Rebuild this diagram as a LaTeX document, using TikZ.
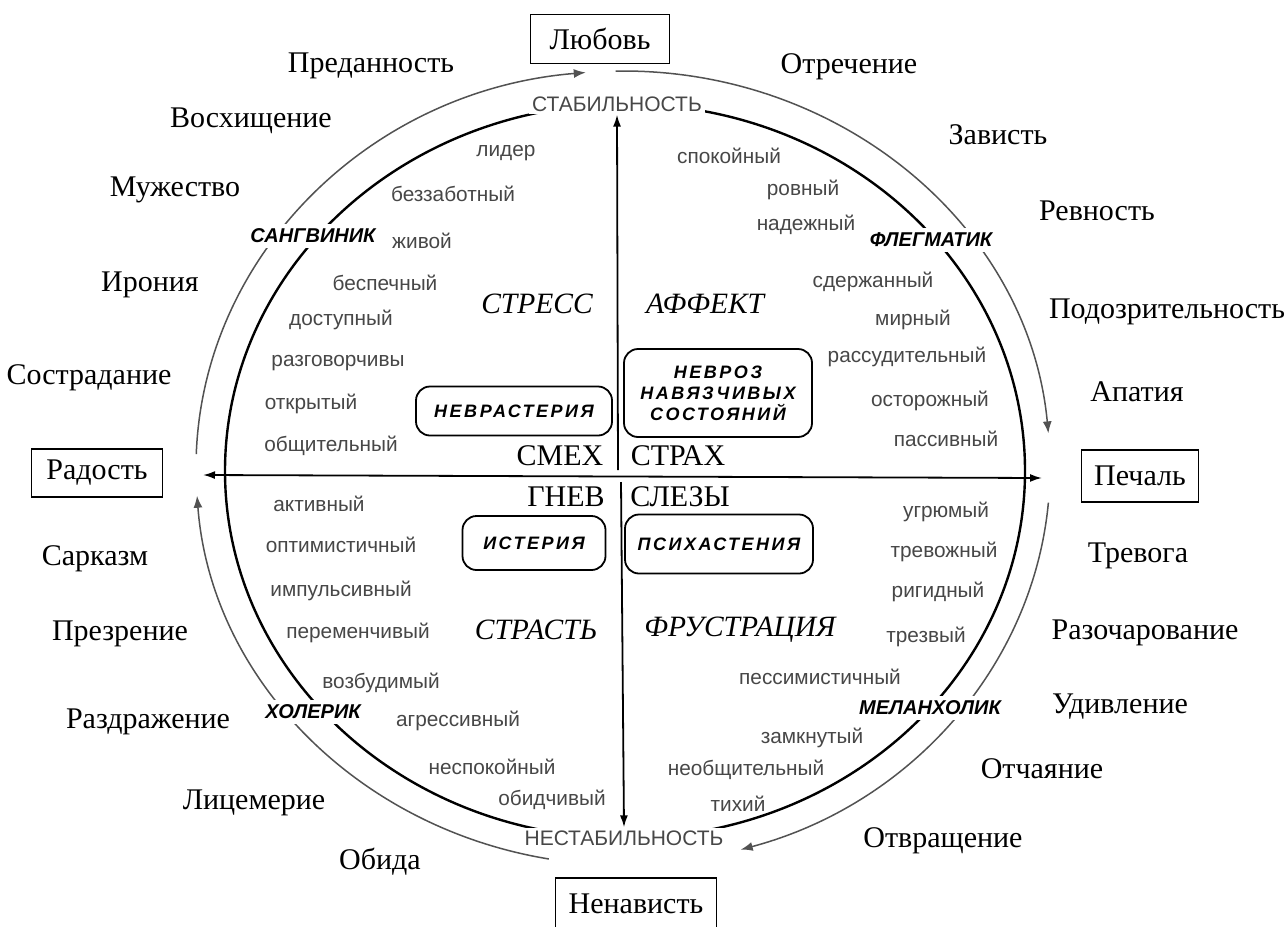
\documentclass[tikz,border=0pt]{standalone}
\usepackage{fontspec}
\setmainfont{Liberation Serif}
\setsansfont{Liberation Sans}
\usetikzlibrary{arrows.meta,calc}
\begin{document}
\begin{tikzpicture}[x=1pt,y=-1pt,
  emo/.style={font=\fontsize{30}{33}\selectfont, inner sep=0pt},
  pole/.style={draw, line width=1.4pt, font=\fontsize{30}{33}\selectfont, inner sep=0pt},
  quad/.style={font=\itshape\fontsize{29.5}{33}\selectfont, inner sep=0pt},
  trait/.style={font=\sffamily\fontsize{20.8}{23}\selectfont, text=black!72, inner sep=0pt},
  stab/.style={font=\sffamily\fontsize{21}{23}\selectfont, text=black!72, fill=white, inner sep=3pt},
  temp/.style={font=\sffamily\bfseries\itshape\fontsize{20}{22}\selectfont, fill=white, inner sep=5pt},
  disorder/.style={draw, line width=1.8pt, rounded corners=14pt, align=center,
     font=\sffamily\bfseries\itshape\fontsize{18}{21}\selectfont\addfontfeature{LetterSpace=14}},
  outerarc/.style={line width=1.5pt, draw=black!68, -{Latex[length=12pt,width=9pt]}},
  axis/.style={line width=1.8pt, -{Latex[length=12pt,width=8pt]}}
]
\useasboundingbox (0,0) rectangle (1287,926);
\fill[white] (0,0) rectangle (1287,926);

% centres
\coordinate (O) at (623,468);
\coordinate (I) at (625,471);

% inner ellipse
\draw[line width=2.4pt] (I) ellipse [x radius=400pt, y radius=367pt];

% outer arcs
\coordinate (a1s) at ($(O)+(178:427pt and 397pt)$);
\coordinate (a2s) at ($(O)+(91:427pt and 397pt)$);
\coordinate (a3s) at ($(O)+(-5:427pt and 397pt)$);
\coordinate (a4s) at ($(O)+(260:427pt and 397pt)$);
\draw[outerarc] (a1s) arc[start angle=178, end angle=95, x radius=427pt, y radius=397pt];
\draw[outerarc] (a2s) arc[start angle=91, end angle=5, x radius=427pt, y radius=397pt];
\draw[outerarc] (a3s) arc[start angle=-5, end angle=-74, x radius=427pt, y radius=397pt];
\draw[outerarc] (a4s) arc[start angle=260, end angle=184, x radius=427pt, y radius=397pt];

% stability labels
\node[stab] (st) at (617,104) {СТАБИЛЬНОСТЬ};
\node[stab] (nst) at (624,838) {НЕСТАБИЛЬНОСТЬ};

% axes
\coordinate (hl) at (203,475);
\coordinate (hr) at (1042,478);
\coordinate (vc1) at (618,470);
\coordinate (vc2) at (621,482);
\draw[axis, {Latex[length=12pt,width=8pt]}-{Latex[length=12pt,width=8pt]}] (hl) -- (hr);
\draw[axis] (vc1) -- (st.south);
\draw[axis] (vc2) -- (nst.north);

% temperaments
\node[temp] (sang) at (313,236) {САНГВИНИК};
\node[temp] (phleg) at (931,240) {ФЛЕГМАТИК};
\node[temp] (chol) at (313,712) {ХОЛЕРИК};
\node[temp] (mel) at (930,708) {МЕЛАНХОЛИК};

% pole boxes
\node[pole, minimum width=139pt, minimum height=49pt] (love) at (600,39) {Любовь};
\node[pole, minimum width=131pt, minimum height=48pt] (joy) at (97,473) {Радость};
\node[pole, minimum width=117pt, minimum height=52pt] (sad) at (1140,476) {Печаль};
\node[pole, minimum width=161pt, minimum height=52pt] (hate) at (636,904) {Ненависть};

% outer emotions
\node[emo] (e1) at (371,66) {Преданность};
\node[emo] (e2) at (251,121) {Восхищение};
\node[emo] (e3) at (175,190) {Мужество};
\node[emo] (e4) at (150,285) {Ирония};
\node[emo] (e5) at (89,378) {Сострадание};
\node[emo] (e6) at (95,559) {Сарказм};
\node[emo] (e7) at (120,634) {Презрение};
\node[emo] (e8) at (148,722) {Раздражение};
\node[emo] (e9) at (254,803) {Лицемерие};
\node[emo] (e10) at (380,862) {Обида};
\node[emo] (e11) at (849,67) {Отречение};
\node[emo] (e12) at (998,135) {Зависть};
\node[emo] (e13) at (1097,211) {Ревность};
\node[emo] (e14) at (1167,312) {Подозрительность};
\node[emo] (e15) at (1137,392) {Апатия};
\node[emo] (e16) at (1138,556) {Тревога};
\node[emo] (e17) at (1145,633) {Разочарование};
\node[emo] (e18) at (1120,707) {Удивление};
\node[emo] (e19) at (1042,769) {Отчаяние};
\node[emo] (e20) at (943,841) {Отвращение};

% quadrant states
\node[quad] (q1) at (537,304) {СТРЕСС};
\node[quad] (q2) at (705,304) {АФФЕКТ};
\node[quad] (q3) at (536,630) {СТРАСТЬ};
\node[quad] (q4) at (740,630) {ФРУСТРАЦИЯ};

% centre words
\node[emo] (c1) at (560,456) {СМЕХ};
\node[emo] (c2) at (678,456) {СТРАХ};
\node[emo] (c3) at (566,497) {ГНЕВ};
\node[emo] (c4) at (680,497) {СЛЕЗЫ};

% disorders
\node[disorder, minimum width=196pt, minimum height=49pt] (d1) at (514,411) {НЕВРАСТЕРИЯ};
\node[disorder, minimum width=188pt, minimum height=88pt] (d2) at (718,393) {НЕВРОЗ\\НАВЯЗЧИВЫХ\\СОСТОЯНИЙ};
\node[disorder, minimum width=143pt, minimum height=54pt] (d3) at (534,543) {ИСТЕРИЯ};
\node[disorder, minimum width=188pt, minimum height=59pt] (d4) at (719,544) {ПСИХАСТЕНИЯ};

% traits: top-left
\node[trait] (t1) at (506,153) {лидер};
\node[trait] (t2) at (453,194) {беззаботный};
\node[trait] (t3) at (422,241) {живой};
\node[trait] (t4) at (385,283) {беспечный};
\node[trait] (t5) at (341,320) {доступный};
\node[trait] (t6) at (338,363) {разговорчивы};
\node[trait] (t7) at (311,404) {открытый};
\node[trait] (t8) at (331,446) {общительный};
% top-right
\node[trait] (t9) at (729,156) {спокойный};
\node[trait] (t10) at (803,190) {ровный};
\node[trait] (t11) at (806,225) {надежный};
\node[trait] (t12) at (873,282) {сдержанный};
\node[trait] (t13) at (913,320) {мирный};
\node[trait] (t14) at (907,357) {рассудительный};
\node[trait] (t15) at (930,401) {осторожный};
\node[trait] (t16) at (946,439) {пассивный};
% bottom-left
\node[trait] (t17) at (319,504) {активный};
\node[trait] (t18) at (341,545) {оптимистичный};
\node[trait] (t19) at (341,591) {импульсивный};
\node[trait] (t20) at (358,633) {переменчивый};
\node[trait] (t21) at (381,683) {возбудимый};
\node[trait] (t22) at (458,721) {агрессивный};
\node[trait] (t23) at (492,767) {неспокойный};
\node[trait] (t24) at (552,800) {обидчивый};
% bottom-right
\node[trait] (t25) at (946,512) {угрюмый};
\node[trait] (t26) at (944,552) {тревожный};
\node[trait] (t27) at (938,592) {ригидный};
\node[trait] (t28) at (926,637) {трезвый};
\node[trait] (t29) at (820,677) {пессимистичный};
\node[trait] (t30) at (812,738) {замкнутый};
\node[trait] (t31) at (746,770) {необщительный};
\node[trait] (t32) at (738,804) {тихий};
\end{tikzpicture}
\end{document}
